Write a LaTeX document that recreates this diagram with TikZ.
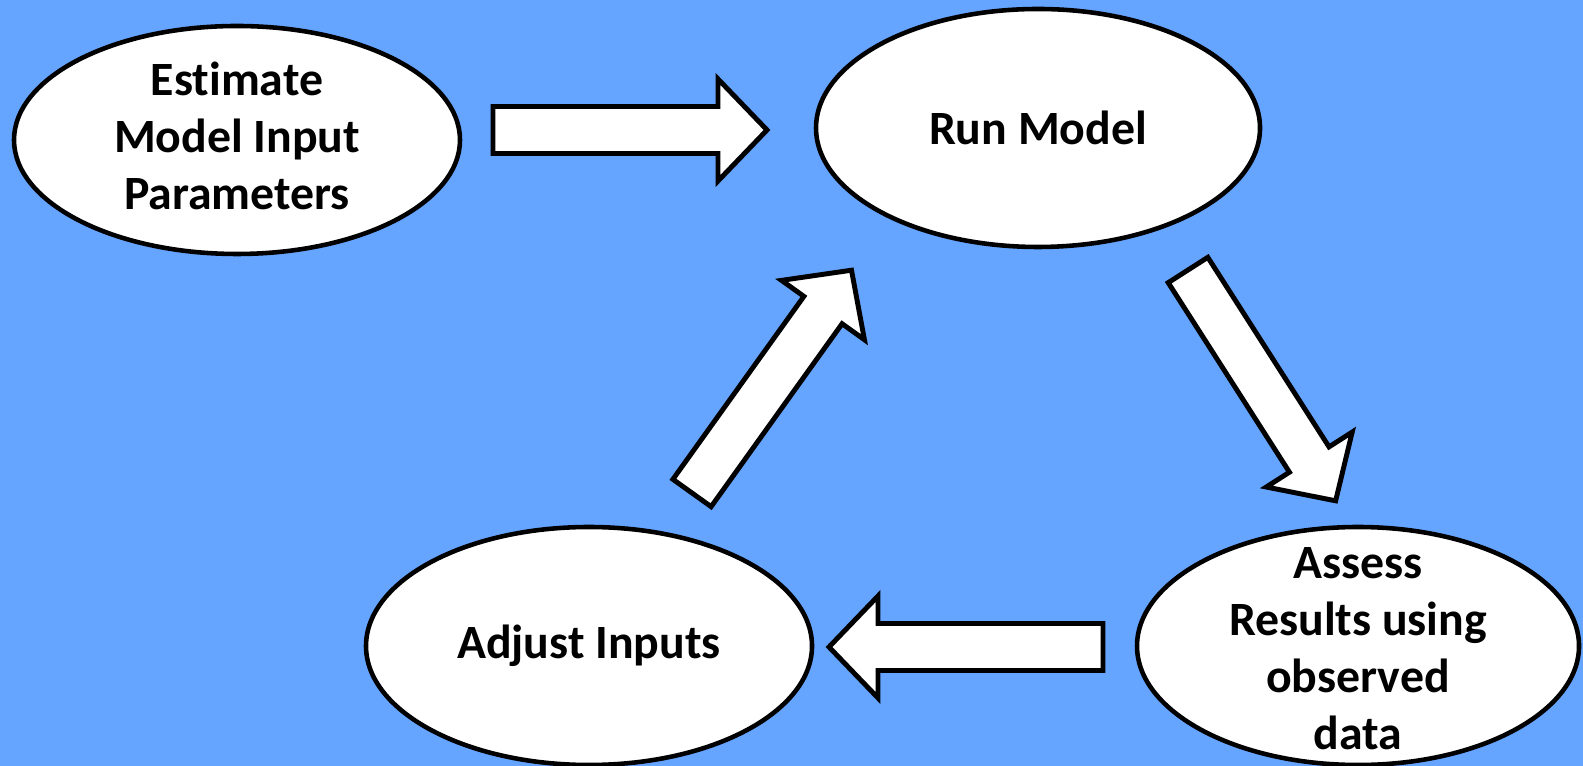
\documentclass[tikz,border=0pt]{standalone}
\usepackage{fontspec}
\setmainfont{Carlito}[Ligatures=NoCommon]
\usetikzlibrary{shapes.geometric}

\definecolor{skyblue}{RGB}{102,165,255}

\tikzset{
  stage/.style={ellipse, draw=black, fill=white, line width=1.3pt,
    inner sep=0pt, align=center,
    font=\fontsize{13.6}{16.2}\selectfont\bfseries},
  blockarrow/.style={draw=black, fill=white, line width=1.4pt, line join=miter}
}

\begin{document}
\begin{tikzpicture}
  % Background
  \fill[skyblue] (0,0) rectangle (15.83,-7.66);
  \useasboundingbox (0,0) rectangle (15.83,-7.66);

  % Stages
  \node[stage, minimum width=4.46cm, minimum height=2.28cm] (estimate) at (2.37,-1.40) {};
  \node[align=center, font=\fontsize{13.6}{16.2}\selectfont\bfseries] (estimatetext) at (2.37,-1.36) {Estimate\\Model Input\\Parameters};
  \node[stage, minimum width=4.44cm, minimum height=2.38cm] (run) at (10.38,-1.28) {Run Model};
  \node[stage, minimum width=4.46cm, minimum height=2.38cm] (adjust) at (5.89,-6.46) {Adjust Inputs};
  \node[stage, minimum width=4.42cm, minimum height=2.38cm] (assess) at (13.58,-6.46) {};
  \node[align=center, font=\fontsize{13.6}{16.2}\selectfont\bfseries] (assesstext) at (13.58,-6.49) {Assess\\Results using\\observed\\data};

  % Block arrows: tail x / tail y / angle
  \foreach \x/\y/\a in {4.93/-1.30/0, 11.88/-2.70/-57.4, 11.03/-6.47/180, 6.92/-4.93/54.4}{
    \begin{scope}[shift={(\x,\y)}, rotate=\a]
      \draw[blockarrow] (0,-0.235) -- (2.25,-0.235) -- (2.25,-0.51) -- (2.74,0)
        -- (2.25,0.51) -- (2.25,0.235) -- (0,0.235) -- cycle;
    \end{scope}
  }
\end{tikzpicture}
\end{document}
